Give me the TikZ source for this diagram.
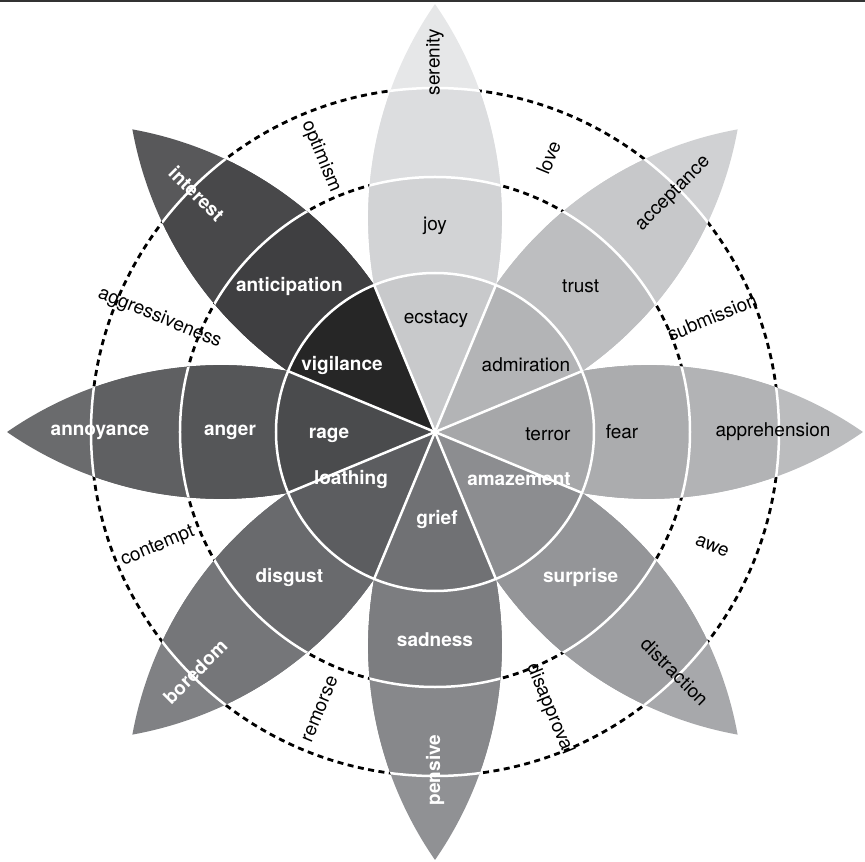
\documentclass[tikz,border=0pt]{standalone}
\usepackage{fontspec}
\setmainfont{TeX Gyre Heros}
\usepackage{tikz}
\definecolor{joyinner}{HTML}{C8C9CB}
\definecolor{joymid}{HTML}{D2D3D5}
\definecolor{joyouter}{HTML}{DCDDDF}
\definecolor{joytip}{HTML}{E6E7E8}
\definecolor{trustinner}{HTML}{B3B4B6}
\definecolor{trustmid}{HTML}{BDBEC0}
\definecolor{trustouter}{HTML}{C7C8CA}
\definecolor{trusttip}{HTML}{D0D1D3}
\definecolor{fearinner}{HTML}{A6A7A9}
\definecolor{fearmid}{HTML}{ABACAE}
\definecolor{fearouter}{HTML}{B2B3B5}
\definecolor{feartip}{HTML}{BBBCBE}
\definecolor{surpriseinner}{HTML}{8C8D90}
\definecolor{surprisemid}{HTML}{949598}
\definecolor{surpriseouter}{HTML}{9D9EA1}
\definecolor{surprisetip}{HTML}{A7A8AB}
\definecolor{sadnessinner}{HTML}{707174}
\definecolor{sadnessmid}{HTML}{7C7D80}
\definecolor{sadnessouter}{HTML}{87888B}
\definecolor{sadnesstip}{HTML}{909194}
\definecolor{disgustinner}{HTML}{5C5D60}
\definecolor{disgustmid}{HTML}{696A6D}
\definecolor{disgustouter}{HTML}{757679}
\definecolor{disgusttip}{HTML}{808184}
\definecolor{angerinner}{HTML}{4A4B4D}
\definecolor{angermid}{HTML}{555658}
\definecolor{angerouter}{HTML}{5F6062}
\definecolor{angertip}{HTML}{6A6B6D}
\definecolor{anticipationinner}{HTML}{262626}
\definecolor{anticipationmid}{HTML}{3F3F41}
\definecolor{anticipationouter}{HTML}{48484A}
\definecolor{anticipationtip}{HTML}{58585A}
\definecolor{wheelrule}{HTML}{333333}
% one petal along the x axis: two circle arcs from the centre to the tip
\newcommand{\petalpath}{(0,0) arc[start angle=124.69, end angle=55.31, radius=376] arc[start angle=-55.31, end angle=-124.69, radius=376] -- cycle}

\begin{document}
\begin{tikzpicture}[x=1pt, y=1pt,
        ringline/.style={white, line width=2.5pt},
        dashring/.style={black, line width=2.8pt, dash pattern=on 6pt off 4.5pt},
        darklabel/.style={font=\fontsize{19}{22}\selectfont, text=black, inner sep=1pt},
        lightlabel/.style={font=\fontsize{19}{22}\selectfont\bfseries, text=white, inner sep=1pt}
    ]
        \useasboundingbox (-435,-430) rectangle (430,432);
        \draw [wheelrule, line width=2pt] (-435,431) -- (430,431);

        \draw [dashring] (0,0) circle[radius=255];
        \draw [dashring] (0,0) circle[radius=344];

        \foreach \ang/\hue in {90/joy, 45/trust, 0/fear, -45/surprise, -90/sadness, -135/disgust, 180/anger, 135/anticipation} {
            \begin{scope}[rotate=\ang]
                \fill [\hue tip] \petalpath;
                \begin{scope}
                    \clip \petalpath;
                    \fill [\hue outer] (0,0) circle[radius=344];
                    \fill [\hue mid] (0,0) circle[radius=255];
                    \draw [ringline] (0,0) circle[radius=255] (0,0) circle[radius=344];
                \end{scope}
            \end{scope}
        }
        % the centre disc goes over the petal roots
        \foreach \ang/\hue in {90/joy, 45/trust, 0/fear, -45/surprise, -90/sadness, -135/disgust, 180/anger, 135/anticipation}
            \fill [\hue inner, rotate=\ang] (0,0) -- (-22.5:159) arc[start angle=-22.5, end angle=22.5, radius=159] -- cycle;
        \foreach \ang in {22.5, 67.5, ..., 337.5}
            \draw [ringline] (0,0) -- (\ang:159);
        \draw [ringline] (0,0) circle[radius=159];

        % inner ring
        \node (ecstacy) [darklabel] at (1,113) {ecstacy};
        \node (admiration) [darklabel] at (91,67) {admiration};
        \node (terror) [darklabel] at (113,-2) {terror};
        \node (amazement) [lightlabel] at (84,-47) {amazement};
        \node (grief) [lightlabel] at (2,-87) {grief};
        \node (loathing) [lightlabel] at (-84,-47) {loathing};
        \node (rage) [lightlabel] at (-106,-3) {rage};
        \node (vigilance) [lightlabel] at (-93,67) {vigilance};
        % middle ring
        \node (joy) [darklabel] at (90:206) {joy};
        \node (trust) [darklabel] at (45:206) {trust};
        \node (fear) [darklabel] at (0:187) {fear};
        \node (surprise) [lightlabel] at (-45:206) {surprise};
        \node (sadness) [lightlabel] at (-90:208) {sadness};
        \node (disgust) [lightlabel] at (-135:206) {disgust};
        \node (anger) [lightlabel] at (180:205) {anger};
        \node (anticipation) [lightlabel] at (135:206) {anticipation};
        % petal tips
        \node (serenity) [darklabel, rotate=90] at (90:370) {serenity};
        \node (acceptance) [darklabel, rotate=45] at (45:337) {acceptance};
        \node (apprehension) [darklabel] at (0:338) {apprehension};
        \node (distraction) [darklabel, rotate=-45] at (-45:339) {distraction};
        \node (pensive) [lightlabel, rotate=90] at (-90:338) {pensive};
        \node (boredom) [lightlabel, rotate=45] at (-135:339) {boredom};
        \node (annoyance) [lightlabel] at (180:335) {annoyance};
        \node (interest) [lightlabel, rotate=-45] at (135:337) {interest};
        % between the petals
        \node (love) [darklabel, rotate=67.5] at (67.5:297) {love};
        \node (submission) [darklabel, rotate=22.5] at (22.5:300) {submission};
        \node (awe) [darklabel, rotate=-22.5] at (-22.5:300) {awe};
        \node (disapproval) [darklabel, rotate=-67.5] at (-67.5:300) {disapproval};
        \node (remorse) [darklabel, rotate=67.5] at (-112.5:300) {remorse};
        \node (contempt) [darklabel, rotate=22.5] at (-157.5:300) {contempt};
        \node (aggressiveness) [darklabel, rotate=-22.5] at (157.5:298) {aggressiveness};
        \node (optimism) [darklabel, rotate=-67.5] at (112.5:298) {optimism};
    \end{tikzpicture}
\end{document}
